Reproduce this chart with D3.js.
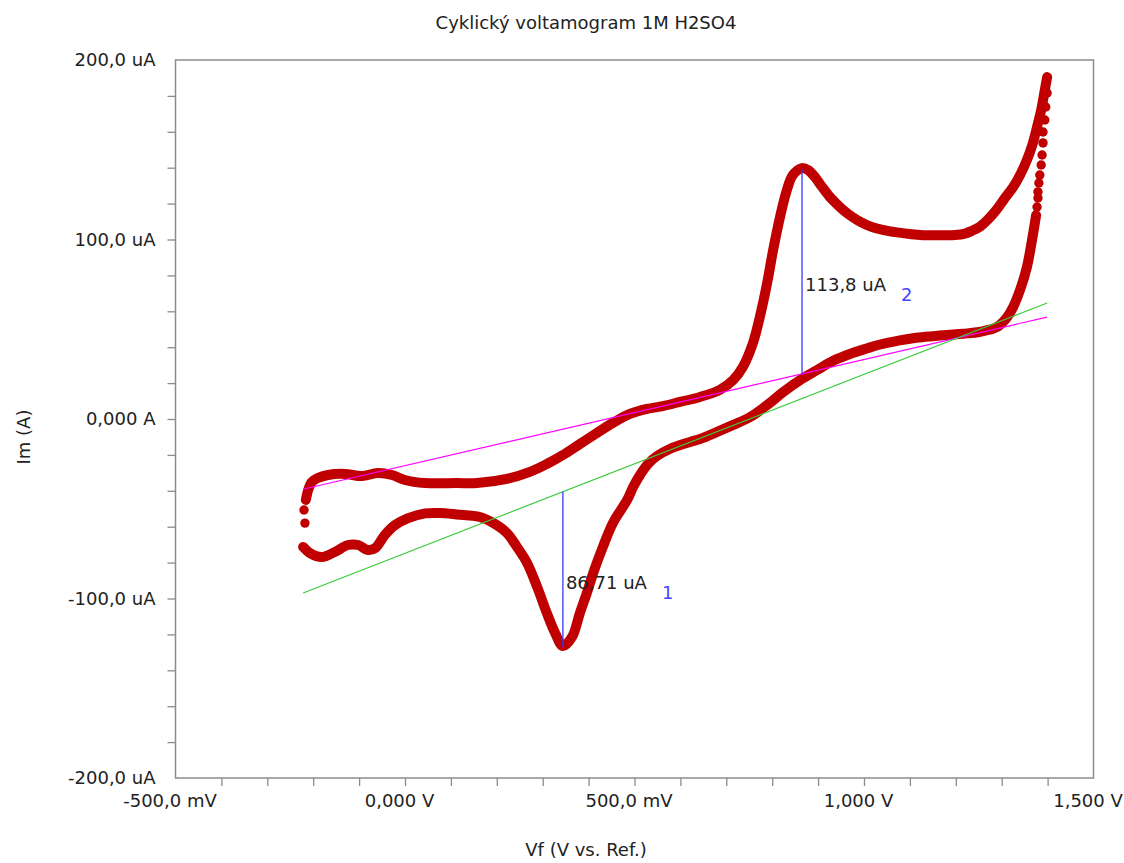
<!DOCTYPE html>
<html>
<head>
<meta charset="utf-8">
<script src="https://cdn.jsdelivr.net/npm/d3@7"></script>
<style>
  body { margin: 0; background: #fff; }
  text { font-family: "DejaVu Sans", sans-serif; fill: #222; }
</style>
</head>
<body>
<div id="chart"></div>
<script>
var title = 'Cyklický voltamogram 1M H2SO4';
var xTitle = 'Vf (V vs. Ref.)';
var yTitle = 'Im (A)';

var xLabelValues = [-500, 0, 500, 1000, 1500];
var xLabels = ['-500,0 mV', '0,000 V', '500,0 mV', '1,000 V', '1,500 V'];
var yLabelValues = [200, 100, 0, -100, -200];
var yLabels = ['200,0 uA', '100,0 uA', '0,000 A', '-100,0 uA', '-200,0 uA'];

// potential (mV), current (uA)
// first recorded points at the lower switching potential (drawn as loose dots)
var forwardStart = [[-218, -58.0], [-220, -50.7]];
var forwardScan = [
  [-216, -45.1], [-211, -39.6], [-203, -35.1], [-190, -32.9], [-168, -31.2],
  [-131, -30.6], [-94, -31.8], [-59, -30.1], [-28, -31.2], [0, -34.0],
  [44, -35.7], [113, -35.7], [157, -35.7], [222, -33.4], [272, -29.5],
  [309, -25.1], [344, -20.1], [381, -13.9], [418, -7.8], [453, -2.2],
  [490, 2.8], [527, 5.6], [562, 7.2], [599, 9.5], [643, 12.3],
  [686, 16.2], [715, 21.7], [736, 29.0], [758, 42.3], [773, 56.8],
  [789, 75.8], [802, 94.1], [817, 112.5], [832, 127.6], [845, 135.9],
  [865, 139.8], [878, 138.7], [893, 134.8], [909, 129.2], [926, 123.6],
  [943, 119.2], [963, 114.7], [985, 110.9], [1006, 108.1], [1028, 106.1],
  [1057, 104.5], [1089, 103.4], [1122, 102.5], [1160, 102.3], [1198, 102.5],
  [1220, 103.3], [1235, 104.8], [1253, 107.2], [1270, 111.1], [1288, 116.4],
  [1307, 123.1], [1325, 129.2], [1340, 135.9], [1355, 144.3], [1368, 153.8],
  [1377, 162.7], [1386, 172.1], [1392, 180.5], [1399, 190.5]
];
// current decay right after the upper switching potential (loose dots)
var reverseStart = [
  [1399, 181.6], [1396, 173.8], [1394, 166.6], [1390, 159.9], [1390, 153.8],
  [1388, 147.1], [1386, 141.5], [1383, 135.9], [1381, 131.5], [1379, 126.5],
  [1379, 123.1], [1377, 118.1]
];
var reverseScan = [
  [1375, 113.6], [1366, 99.7], [1355, 84.7], [1340, 71.9], [1325, 62.4],
  [1312, 56.8], [1290, 51.3], [1253, 48.6], [1216, 47.5], [1181, 46.8],
  [1144, 46.0], [1107, 45.0], [1078, 43.8], [1035, 41.5], [1006, 39.3],
  [969, 36.2], [932, 32.3], [898, 27.3], [861, 21.7], [824, 15.0],
  [789, 7.8], [752, 1.1], [715, -3.3], [680, -7.2], [643, -11.1],
  [621, -12.8], [577, -16.7], [549, -20.6], [529, -25.1], [512, -31.2],
  [497, -37.9], [484, -45.1], [453, -57.9], [431, -71.3], [410, -85.8],
  [397, -96.3], [381, -108.1], [364, -121.4], [344, -126.5], [327, -119.2],
  [309, -108.1], [288, -93.6], [266, -80.2], [244, -71.3], [222, -63.5],
  [192, -57.9], [163, -54.6], [113, -53.2], [76, -52.4], [44, -52.6],
  [7, -55.2], [-22, -59.1], [-44, -64.6], [-65, -71.9], [-81, -73.0],
  [-102, -70.2], [-124, -70.2], [-153, -74.1], [-181, -76.9], [-207, -74.7],
  [-222, -71.3]
];

// baselines drawn by the peak search
var anodicBaseline = [[-220, -39.0], [1399, 56.8]];
var cathodicBaseline = [[-222, -96.9], [1399, 64.6]];

// peak markers: potential, baseline current, peak current, height label, peak number
var peakPotentials = [344, 865];
var peakBases = [-40.5, 25.2];
var peakTops = [-127.2, 139.0];
var peakHeights = ['86,71 uA', '113,8 uA'];
var peakNumbers = ['1', '2'];

var W = 1124, H = 863;
var margin = {top: 60, right: 30.5, bottom: 85, left: 175.5};
var width = W - margin.left - margin.right;
var height = H - margin.top - margin.bottom;

var x = d3.scaleLinear().domain([-500, 1500]).range([0, width]);
var y = d3.scaleLinear().domain([-200, 200]).range([height, 0]);

var svg = d3.select('#chart').append('svg')
    .attr('width', W)
    .attr('height', H);

svg.append('text')
  .attr('x', 586)
  .attr('y', 29)
  .attr('text-anchor', 'middle')
  .style('font-size', '18px')
  .text(title);

var g = svg.append('g')
    .attr('transform', 'translate(' + margin.left + ',' + margin.top + ')');

// minor ticks
var xTicks = d3.range(-400, 1500, 100);
var yTicks = d3.range(-180, 200, 20);

g.append('g')
  .attr('class', 'x-ticks')
  .attr('transform', 'translate(0,' + height + ')')
  .call(d3.axisBottom(x).tickValues(xTicks).tickSize(8).tickFormat(''))
  .call(function (s) { s.select('.domain').remove(); });

g.append('g')
  .attr('class', 'y-ticks')
  .call(d3.axisLeft(y).tickValues(yTicks).tickSize(8).tickFormat(''))
  .call(function (s) { s.select('.domain').remove(); });

g.selectAll('.x-ticks line, .y-ticks line')
  .attr('stroke', '#8c8c8c')
  .attr('stroke-width', 1.3);

// tick labels
g.append('g')
  .attr('class', 'x-labels')
  .attr('transform', 'translate(0,' + height + ')')
  .call(d3.axisBottom(x).tickValues(xLabelValues).tickSize(0).tickPadding(16)
    .tickFormat(function (d, i) { return xLabels[i]; }))
  .call(function (s) { s.select('.domain').remove(); })
  .selectAll('text')
  .attr('dx', -6)
  .style('font-size', '18px')
  .style('font-family', '"DejaVu Sans", sans-serif')
  .attr('fill', '#222');

g.append('g')
  .attr('class', 'y-labels')
  .call(d3.axisLeft(y).tickValues(yLabelValues).tickSize(0).tickPadding(20)
    .tickFormat(function (d, i) { return yLabels[i]; }))
  .call(function (s) { s.select('.domain').remove(); })
  .selectAll('text')
  .style('font-size', '18px')
  .style('font-family', '"DejaVu Sans", sans-serif')
  .attr('fill', '#222');

// frame
g.append('rect')
  .attr('width', width)
  .attr('height', height)
  .attr('fill', 'none')
  .attr('stroke', '#8c8c8c')
  .attr('stroke-width', 1.5);

// axis titles
svg.append('text')
  .attr('x', 586)
  .attr('y', 856)
  .attr('text-anchor', 'middle')
  .style('font-size', '18px')
  .text(xTitle);

svg.append('text')
  .attr('transform', 'translate(30,437) rotate(-90)')
  .attr('text-anchor', 'middle')
  .style('font-size', '18px')
  .text(yTitle);

// voltammogram
var red = '#c00000';
var line = d3.line()
    .curve(d3.curveCatmullRom.alpha(0.5))
    .x(function (d) { return x(d[0]); })
    .y(function (d) { return y(d[1]); });

[forwardScan, reverseScan].forEach(function (branch) {
  g.append('path')
    .datum(branch)
    .attr('fill', 'none')
    .attr('stroke', red)
    .attr('stroke-width', 10)
    .attr('stroke-linecap', 'round')
    .attr('stroke-linejoin', 'round')
    .attr('d', line);
});

g.selectAll('.loose')
  .data(forwardStart.concat(reverseStart))
  .enter().append('circle')
  .attr('class', 'loose')
  .attr('cx', function (d) { return x(d[0]); })
  .attr('cy', function (d) { return y(d[1]); })
  .attr('r', 4.7)
  .attr('fill', red);

// baselines
var straight = d3.line()
    .x(function (d) { return x(d[0]); })
    .y(function (d) { return y(d[1]); });

g.append('path')
  .datum(anodicBaseline)
  .attr('fill', 'none')
  .attr('stroke', '#ff00ff')
  .attr('stroke-width', 1.2)
  .attr('d', straight);

g.append('path')
  .datum(cathodicBaseline)
  .attr('fill', 'none')
  .attr('stroke', '#3ccc3c')
  .attr('stroke-width', 1.2)
  .attr('d', straight);

// peak heights
peakPotentials.forEach(function (p, i) {
  var px = x(p);
  var mid = (y(peakBases[i]) + y(peakTops[i])) / 2;
  g.append('line')
    .attr('x1', px).attr('x2', px)
    .attr('y1', y(peakBases[i]))
    .attr('y2', y(peakTops[i]))
    .attr('stroke', '#3838ff')
    .attr('stroke-width', 1.3);
  g.append('text')
    .attr('x', px + 3)
    .attr('y', mid + 19)
    .style('font-size', '18px')
    .text(peakHeights[i]);
  g.append('text')
    .attr('x', px + 99)
    .attr('y', mid + 29)
    .style('font-size', '18px')
    .style('fill', '#4646ff')
    .text(peakNumbers[i]);
});
</script>
</body>
</html>
